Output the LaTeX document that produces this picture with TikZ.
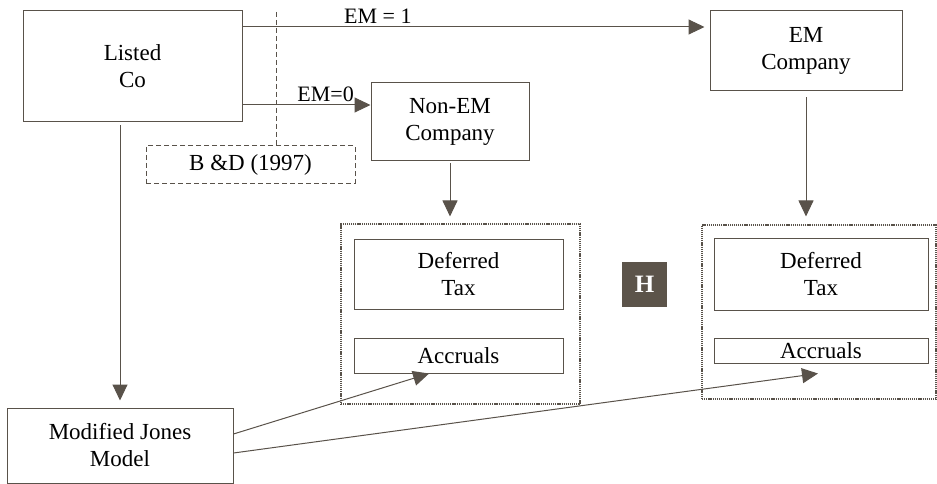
\documentclass[tikz,border=0pt]{standalone}
\usepackage{fontspec}
\setmainfont{Liberation Serif}
\usetikzlibrary{arrows.meta, positioning, calc}
\definecolor{linebrown}{RGB}{89,82,74}
\definecolor{hbrown}{RGB}{92,84,74}

\tikzset{
  box/.style={draw=linebrown, line width=1pt, align=center, inner sep=0pt,
    text=black, font=\fontsize{23}{27}\selectfont},
  dotbox/.style={draw=linebrown, line width=1.1pt, dash pattern=on 1.2pt off 0.9pt, inner sep=0pt},
  dashline/.style={linebrown, line width=1pt, dash pattern=on 5pt off 3pt},
  flow/.style={linebrown, line width=1pt, -{Triangle[length=16pt,width=15pt]}},
  lbl/.style={text=black, font=\fontsize{22}{26}\selectfont, inner sep=3pt}
}

\begin{document}
\begin{tikzpicture}[x=1pt, y=-1pt]
  \useasboundingbox (0,0) rectangle (937,484);
  %companies
    \node[box, minimum width=219pt, minimum height=111pt] (listed) at (132.5,66.5) {Listed\\Co};
    \node[box, minimum width=158pt, minimum height=78pt] (nonem) at (450,122) {Non-EM\\Company};
    \node[box, minimum width=192pt, minimum height=80pt] (em) at (806,51) {EM\\Company};
    \node[dashline, box, minimum width=209pt, minimum height=37pt] (bd) at (250.5,164.5) {B \&D (1997)};
    \node[box, minimum width=226pt, minimum height=75pt] (mj) at (120,445.5) {Modified Jones\\Model};
  %non-em side
    \node[dotbox, minimum width=239pt, minimum height=180pt] (dotL) at (460.5,314) {};
    \node[box, minimum width=209pt, minimum height=70pt] (dtL) at (458.5,274) {Deferred\\Tax};
    \node[box, minimum width=209pt, minimum height=35pt] (accL) at (458.5,355.5) {Accruals};
  %em side
    \node[dotbox, minimum width=234pt, minimum height=174pt] (dotR) at (819,312) {};
    \node[box, minimum width=214pt, minimum height=72pt] (dtR) at (821,274) {Deferred\\Tax};
    \node[box, minimum width=214pt, minimum height=25pt] (accR) at (821,350.5) {Accruals};
    \node[fill=hbrown, text=white, minimum size=45pt, inner sep=0pt,
      font=\fontsize{25}{25}\selectfont\bfseries] (hyp) at (644.5,284.5) {H};
  %arrows
    \coordinate (emrow) at (0,27);
    \coordinate (nemrow) at (0,105);
    \coordinate (bdtop) at (276,12);
    \draw[flow, shorten >=5pt] (listed.east |- emrow) -- node[lbl, above, pos=0.29] {EM = 1} (em.west |- emrow);
    \draw[flow] (listed.east |- nemrow) -- node[lbl, above, pos=0.65] {EM=0} (nonem.west |- nemrow);
    \draw[dashline] (bdtop) -- (bdtop |- bd.north);
    \draw[flow, shorten <=3pt, shorten >=7pt] (listed.south -| mj.north) -- (mj.north);
    \draw[flow, shorten <=2pt, shorten >=7pt] (nonem.south) -- (nonem.south |- dotL.north);
    \draw[flow, shorten <=6pt, shorten >=8pt] (em.south) -- (em.south |- dotR.north);
    \draw[flow] ([yshift=11.5pt]mj.east) -- ($(accL.south west)!0.36!(accL.south east)$);
    \draw[flow] ([yshift=-7.5pt]mj.east) -- ($(accR.south)+(-3,10)$);
\end{tikzpicture}
\end{document}
